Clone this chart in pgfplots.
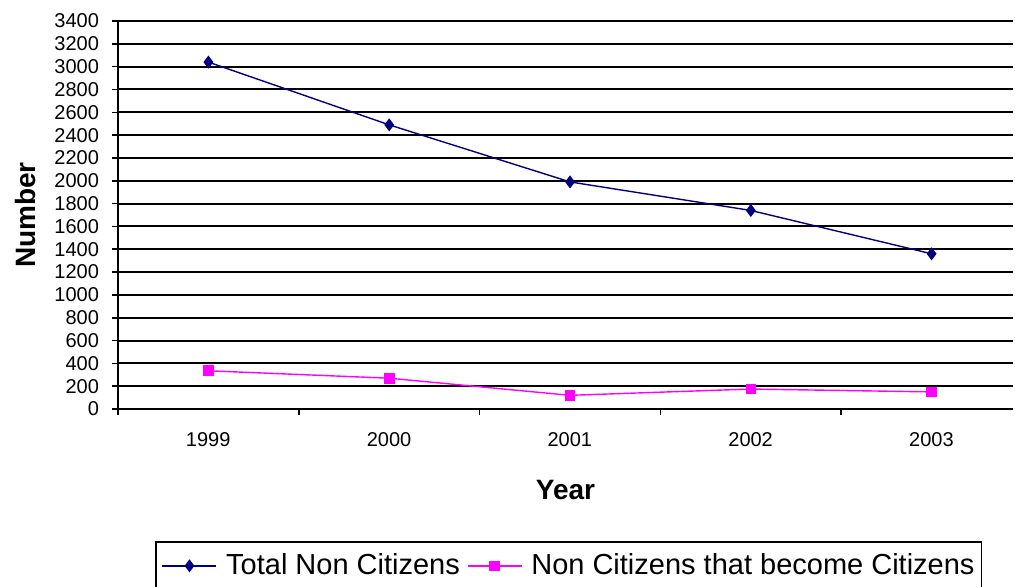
\documentclass[border=0pt]{standalone}
\usepackage{fontspec}
\setmainfont{Liberation Sans}
\usepackage{pgfplots}
\pgfplotsset{compat=1.18}
\definecolor{navyc}{RGB}{0,0,128}
\definecolor{magc}{RGB}{255,0,255}
\begin{document}
\begin{tikzpicture}
\path[use as bounding box] (-59pt,-88.5pt) rectangle (448.5pt,204.5pt);
\begin{axis}[
  scale only axis, width=447.5pt, height=194pt,
  xmin=-0.5, xmax=4.45, ymin=0, ymax=3400,
  axis x line*=bottom, axis y line*=left,
  axis line style={line width=0.9pt, -},
  ytick={0,200,...,3400},
  ymajorgrids, grid style={black, line width=1pt},
  xtick={-0.5,0.5,1.5,2.5,3.5},
  xticklabels={1999,2000,2001,2002,2003},
  x tick label style={xshift=45.1pt, anchor=north, yshift=-5pt},
  y tick label style={anchor=east, xshift=-3pt},
  tick align=outside, major tick length=3pt,
  tick style={black, line width=0.8pt},
  ticklabel style={font=\fontsize{10}{12}\selectfont},
  /pgf/number format/assume math mode=true,
  /pgf/number format/1000 sep={},
  scaled y ticks=false,
  xlabel={Year}, ylabel={Number},
  label style={font=\bfseries\fontsize{14}{16}\selectfont},
  xlabel style={at={(axis description cs:0.5,0)}, anchor=center, yshift=-40.5pt},
  ylabel style={at={(axis description cs:0,0.5)}, anchor=center, rotate=0, yshift=46.5pt},
  legend style={at={(axis description cs:0,0)}, anchor=north west, xshift=18.5pt, yshift=-66pt,
    draw=black, line width=0.8pt, font=\fontsize{14.5}{17}\selectfont, inner xsep=3pt, inner ysep=4pt,
    /tikz/every odd column/.append style={column sep=4pt},
    /tikz/every even column/.append style={column sep=3pt},
    nodes={inner xsep=0.5pt}},
  legend columns=2,
  legend image code/.code={\draw[mark repeat=2,mark phase=2,#1] plot coordinates {(0pt,0pt) (13.5pt,0pt) (27pt,0pt)};},
]
\addplot[navyc, line width=0.7pt, mark=diamond*, mark size=2.7pt, mark options={solid, fill=navyc}]
  coordinates {(0,3040) (1,2490) (2,1990) (3,1740) (4,1360)};
\addlegendentry{Total Non Citizens}
\addplot[magc, line width=0.7pt, mark=square*, mark size=2.3pt, mark options={solid, fill=magc}]
  coordinates {(0,335) (1,270) (2,120) (3,175) (4,150)};
\addlegendentry{Non Citizens that become Citizens}
\end{axis}
\end{tikzpicture}
\end{document}
